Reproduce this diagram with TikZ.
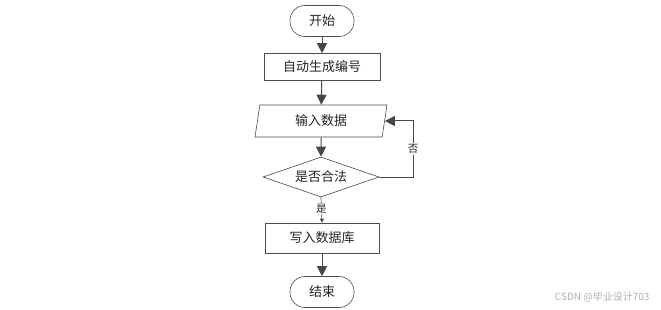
\documentclass[tikz,border=0pt]{standalone}
\usepackage{fontspec}
\setmainfont{Noto Sans CJK SC}
\newfontfamily\cjk{Noto Sans CJK SC}
\usetikzlibrary{shapes.geometric,arrows.meta}
\begin{document}
\begin{tikzpicture}[x=1pt,y=-1pt,
  every node/.style={font=\cjk\fontsize{13}{15}\selectfont, text=black!85},
  shp/.style={draw=black!70, line width=0.6pt, fill=white, inner sep=0pt},
  term/.style={shp, rounded corners=15pt, minimum width=64pt, minimum height=31pt},
  procbox/.style={shp, minimum width=116pt, minimum height=27pt},
  iobox/.style={shp, trapezium, trapezium left angle=68, trapezium right angle=112, trapezium stretches body, minimum width=132pt, minimum height=32pt},
  decide/.style={shp, diamond, shape aspect=2.9, minimum width=116pt, minimum height=40pt},
  conn/.style={draw=black!65, line width=1pt, -{Triangle[length=10pt,width=10pt]}, color=black!72},
  lbl/.style={fill=white, inner sep=1pt, font=\cjk\fontsize{10.5}{12}\selectfont}
]
\path[use as bounding box, fill=white] (0,0) rectangle (661,310);
\node[term] (start) at (322,21) {开始};
\node[procbox] (gen) at (322,67) {自动生成编号};
\node[iobox] (input) at (321,121) {输入数据};
\node[decide] (check) at (321,177) {是否合法};
\node[procbox, minimum width=114pt, minimum height=30pt] (write) at (322,238) {写入数据库};
\node[term] (end) at (322,292) {结束};
\coordinate (fbr) at (413,177);
\draw[conn] (start) -- (gen);
\draw[conn] (gen) -- (input);
\draw[conn] (input) -- (check);
\draw[draw=black!65, line width=0.7pt, -{Triangle[length=4pt,width=4pt]}, color=black!70] (check.south) -- node[lbl, pos=0.45] (yes) {是} (write.north);
\draw[conn] (write) -- (end);
\draw[conn] (check.east) -- (fbr) |- node[lbl, pos=0.25] (no) {否} (input.east);
\node[font=\cjk\fontsize{10}{12}\selectfont, text=black!30, anchor=east] (wm) at (653,297) {CSDN @毕业设计703};
\end{tikzpicture}
\end{document}
